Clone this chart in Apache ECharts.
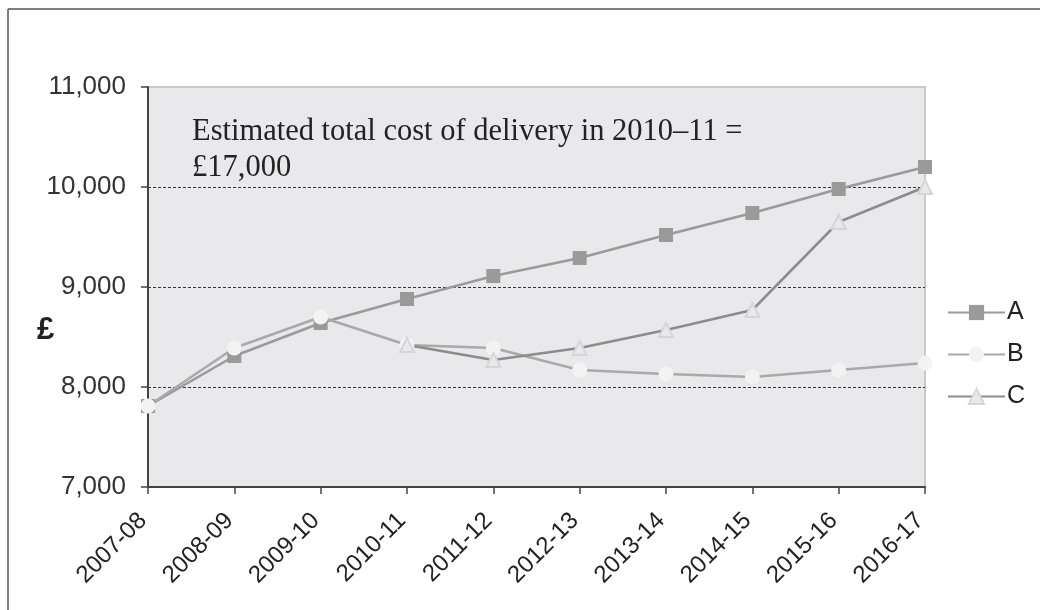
<!DOCTYPE html>
<html>
<head>
<meta charset="utf-8">
<script src="https://cdn.jsdelivr.net/npm/echarts@6/dist/echarts.min.js"></script>
<style>
html,body{margin:0;padding:0;background:#fff;}
#chart{width:1040px;height:610px;}
</style>
</head>
<body>
<div id="chart"></div>
<script>
var categories = ['2007-08','2008-09','2009-10','2010-11','2011-12','2012-13','2013-14','2014-15','2015-16','2016-17'];
var seriesA = [7810, 8310, 8640, 8880, 9110, 9290, 9520, 9740, 9980, 10200];
var seriesB = [7810, 8390, 8700, 8420, 8390, 8170, 8130, 8100, 8170, 8240];
var seriesC = [null, null, null, 8420, 8270, 8390, 8570, 8770, 9650, 10000];
var yTicks = [7000, 8000, 9000, 10000, 11000];
var yAxisTitle = '\u00a3';
var annotationLines = ['Estimated total cost of delivery in 2010\u201311 =', '\u00a317,000'];

var chart = echarts.init(document.getElementById('chart'));
var sans = 'Liberation Sans, Arial, sans-serif';
chart.setOption({
  animation: false,
  backgroundColor: '#fff',
  grid: {left: 148, right: 115, top: 87, bottom: 123, show: true,
         backgroundColor: '#e9e9eb', borderColor: '#c9c9c9', borderWidth: 2},
  legend: {
    orient: 'vertical', left: 942, top: 295, itemWidth: 57, itemHeight: 19, itemGap: 17,
    textStyle: {fontFamily: sans, fontSize: 25, color: '#222', padding: [0, 0, 0, -3]},
    data: ['A','B','C']
  },
  xAxis: {
    type: 'category', data: categories, boundaryGap: false,
    axisLine: {lineStyle: {color: '#444', width: 2}},
    axisTick: {alignWithLabel: true, length: 7, lineStyle: {color: '#444', width: 1.5}},
    axisLabel: {rotate: 45, fontFamily: sans, fontSize: 24, color: '#222', margin: 25,
                padding: [0, 7, 0, 0]},
    splitLine: {show: false}
  },
  yAxis: {
    type: 'value', min: yTicks[0], max: yTicks[yTicks.length-1], interval: 1000,
    axisLine: {show: true, lineStyle: {color: '#444', width: 2}},
    axisTick: {show: true, length: 7, lineStyle: {color: '#444', width: 1.5}},
    axisLabel: {fontFamily: sans, fontSize: 26, color: '#333', margin: 22,
      formatter: function (v) { return v.toLocaleString('en-US'); }},
    splitLine: {show: true, showMinLine: false, showMaxLine: false,
      lineStyle: {color: '#333', type: [3, 2], width: 1}}
  },
  series: [
    {name: 'A', type: 'line', data: seriesA, symbol: 'rect', symbolSize: 14,
     lineStyle: {color: '#9a9a9a', width: 2.5}, itemStyle: {color: '#9a9a9a'}},
    {name: 'B', type: 'line', data: seriesB, symbol: 'circle', symbolSize: 15,
     lineStyle: {color: '#a9a9a9', width: 2.5}, itemStyle: {color: '#f3f3f3', borderWidth: 0}},
    {name: 'C', type: 'line', data: seriesC, symbol: 'triangle', symbolSize: 14,
     lineStyle: {color: '#8c8c8c', width: 2.5},
     itemStyle: {color: '#e9e9eb', borderColor: '#d6d6d6', borderWidth: 2}}
  ],
  graphic: [
    {type: 'line', shape: {x1: 8, y1: 9, x2: 1040, y2: 9}, style: {stroke: '#555', lineWidth: 1.5}},
    {type: 'line', shape: {x1: 8, y1: 9, x2: 8, y2: 610}, style: {stroke: '#555', lineWidth: 1.5}},
    {type: 'text', left: 37, top: 315,
     style: {text: yAxisTitle, fontFamily: sans, fontSize: 31, fontWeight: 'bold', fill: '#222'}},
    {type: 'text', left: 192, top: 114, z: 10,
     style: {text: annotationLines.join('\n'), fontFamily: 'Liberation Serif, serif', fontSize: 30.5,
             lineHeight: 36, fill: '#222'}}
  ]
});
</script>
</body>
</html>
